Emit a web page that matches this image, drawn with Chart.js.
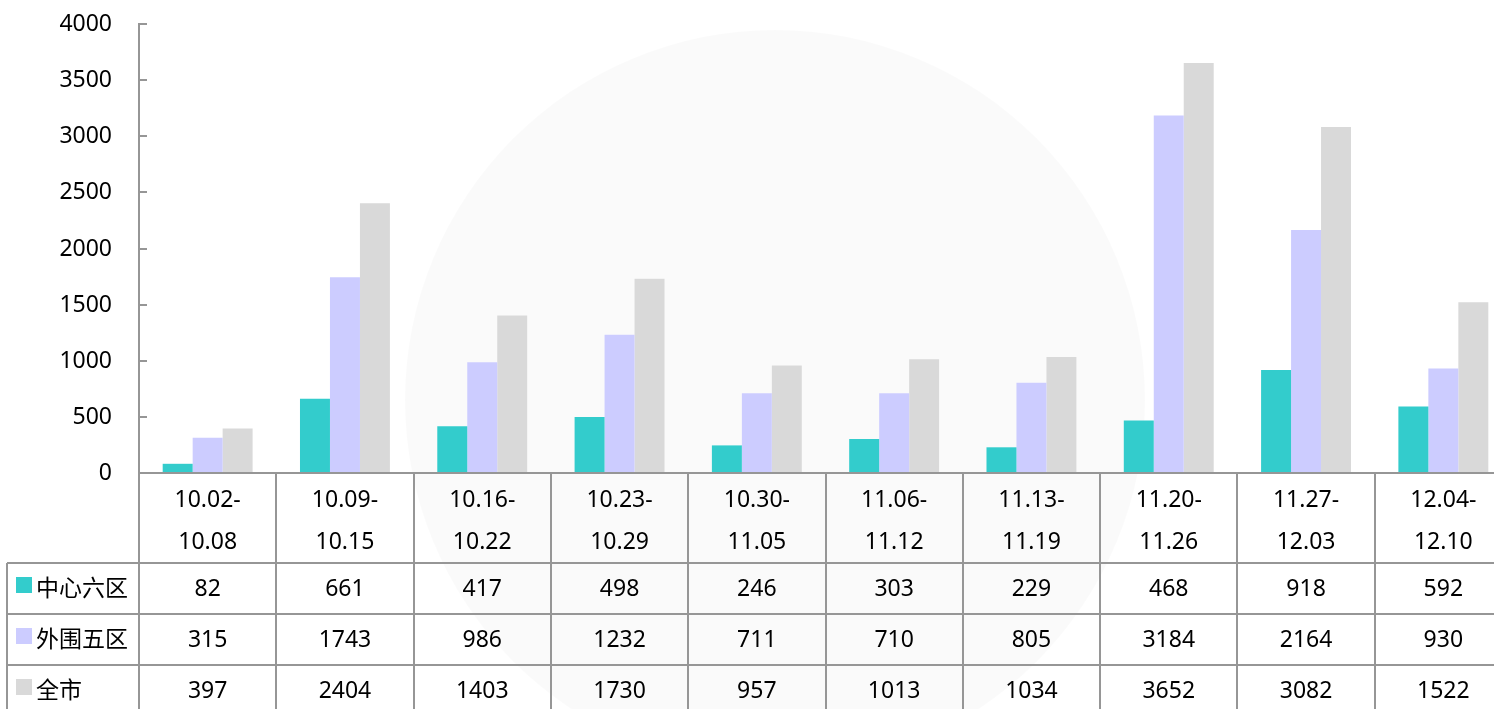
<!DOCTYPE html>
<html>
<head>
<meta charset="utf-8">
<script src="https://cdn.jsdelivr.net/npm/chart.js@4/dist/chart.umd.min.js"></script>
<style>
  html, body { margin: 0; padding: 0; background: #fff; overflow: hidden; }
  #wrap { position: relative; width: 1512px; height: 709px; }
</style>
</head>
<body>
<div id="wrap"><canvas id="weekChart"></canvas></div>
<script>
// Data
const weeks = [
    ['10.02-', '10.08'], ['10.09-', '10.15'], ['10.16-', '10.22'], ['10.23-', '10.29'], ['10.30-', '11.05'],
    ['11.06-', '11.12'], ['11.13-', '11.19'], ['11.20-', '11.26'], ['11.27-', '12.03'], ['12.04-', '12.10']
];
const seriesNames = ['中心六区', '外围五区', '全市'];
const centralSix = [82, 661, 417, 498, 246, 303, 229, 468, 918, 592];
const outerFive = [315, 1743, 986, 1232, 711, 710, 805, 3184, 2164, 930];
const wholeCity = [397, 2404, 1403, 1730, 957, 1013, 1034, 3652, 3082, 1522];
const yTicks = [0, 500, 1000, 1500, 2000, 2500, 3000, 3500, 4000];

const colors = ['#33CCCC', '#CCCCFF', '#D9D9D9'];
const FONT = '"Noto Sans", "Noto Sans CJK SC", sans-serif';
const lineColor = '#969696';

// Faint round watermark behind the bars
const watermark = {
    id: 'watermark',
    beforeDatasetsDraw(chart) {
        const ctx = chart.ctx;
        ctx.save();
        ctx.beginPath();
        ctx.arc(775, 400, 370, 0, Math.PI * 2);
        ctx.fillStyle = 'rgba(0,0,0,0.018)';
        ctx.fill();
        ctx.restore();
    }
};

// Y labels, inward ticks, axis line and the data table under the plot
const dataTable = {
    id: 'dataTable',
    afterDraw(chart) {
        const ctx = chart.ctx;
        const x = chart.scales.x;
        const y = chart.scales.y;
        const area = chart.chartArea;
        const step = (area.right - area.left) / weeks.length;
        const top = area.bottom;
        const headerBottom = top + 90;
        const rowH = 51;
        const bottom = chart.height;

        ctx.save();
        ctx.strokeStyle = lineColor;
        ctx.lineWidth = 2;
        ctx.fillStyle = '#000';
        ctx.font = '23px ' + FONT;
        ctx.textBaseline = 'middle';

        // y axis line
        ctx.beginPath();
        ctx.moveTo(area.left, area.top - 1);
        ctx.lineTo(area.left, top);
        ctx.stroke();

        // y ticks pointing into the plot, labels on the left
        ctx.textAlign = 'right';
        yTicks.forEach(v => {
            const py = Math.round(y.getPixelForValue(v));
            ctx.beginPath();
            ctx.moveTo(area.left, py);
            ctx.lineTo(area.left + 8, py);
            ctx.stroke();
            ctx.fillText(String(v), 112, py);
        });

        // x axis line
        ctx.beginPath();
        ctx.moveTo(area.left, top);
        ctx.lineTo(chart.width, top);
        ctx.stroke();

        // vertical lines
        for (let i = 0; i <= weeks.length; i++) {
            const px = Math.round(area.left + i * step);
            ctx.beginPath();
            ctx.moveTo(px, top);
            ctx.lineTo(px, bottom);
            ctx.stroke();
        }
        // left column border
        ctx.beginPath();
        ctx.moveTo(7, headerBottom);
        ctx.lineTo(7, bottom);
        ctx.stroke();

        // horizontal lines
        for (let r = 0; r < 3; r++) {
            const py = headerBottom + r * rowH;
            ctx.beginPath();
            ctx.moveTo(7, py);
            ctx.lineTo(chart.width, py);
            ctx.stroke();
        }

        // header labels
        ctx.textAlign = 'center';
        weeks.forEach((w, i) => {
            const cx = x.getPixelForValue(i);
            ctx.fillText(w[0], cx, top + 27);
            ctx.fillText(w[1], cx, top + 69);
        });

        // value rows
        const rows = [centralSix, outerFive, wholeCity];
        rows.forEach((vals, r) => {
            const cy = headerBottom + r * rowH + 26;
            ctx.textAlign = 'center';
            vals.forEach((v, i) => {
                ctx.fillText(String(v), x.getPixelForValue(i), cy);
            });
            ctx.fillStyle = colors[r];
            ctx.fillRect(16, cy - 12, 16, 16);
            ctx.fillStyle = '#000';
            ctx.textAlign = 'left';
            ctx.fillText(seriesNames[r], 36, cy);
        });
        ctx.restore();
    }
};

const canvas = document.getElementById('weekChart');
canvas.width = 1512;
canvas.height = 709;

new Chart(canvas, {
    type: 'bar',
    data: {
        labels: weeks,
        datasets: [
            { label: seriesNames[0], data: centralSix, backgroundColor: colors[0] },
            { label: seriesNames[1], data: outerFive, backgroundColor: colors[1] },
            { label: seriesNames[2], data: wholeCity, backgroundColor: colors[2] }
        ]
    },
    options: {
        responsive: false,
        animation: false,
        layout: { padding: { top: 24, bottom: 236, right: 0, left: 0 } },
        datasets: {
            bar: { categoryPercentage: 0.655, barPercentage: 1.0 }
        },
        plugins: {
            legend: { display: false },
            tooltip: { enabled: false }
        },
        scales: {
            x: {
                display: false,
                grid: { display: false }
            },
            y: {
                min: 0,
                max: 4000,
                afterBuildTicks: function (scale) {
                    scale.ticks = yTicks.map(v => ({ value: v }));
                },
                afterFit: function (scale) { scale.width = 139; },
                grid: { display: false, drawTicks: false },
                border: { display: false },
                ticks: { display: false }
            }
        }
    },
    plugins: [watermark, dataTable]
});
</script>
</body>
</html>
